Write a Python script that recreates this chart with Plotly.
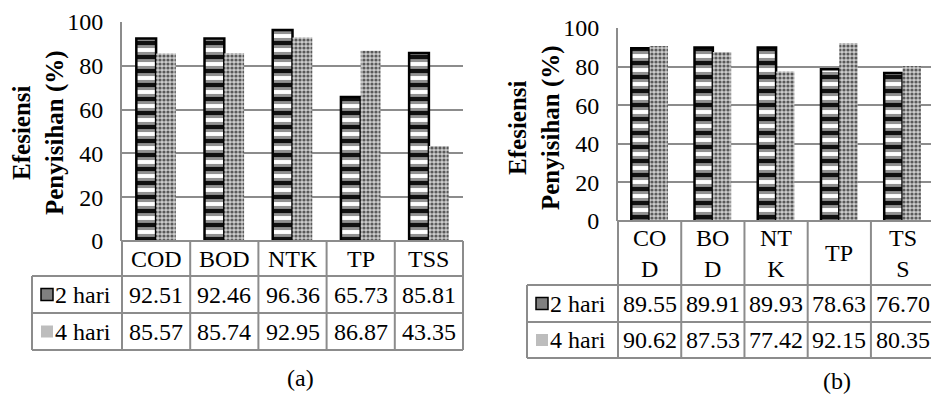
import plotly.graph_objects as go

W, H = 931, 394

# ---- data ----
categories = ["COD", "BOD", "NTK", "TP", "TSS"]
header_a = ["COD", "BOD", "NTK", "TP", "TSS"]
header_b = ["CO<br>D", "BO<br>D", "NT<br>K", "TP", "TS<br>S"]
series_names = ["2 hari", "4 hari"]
a_2hari = [92.51, 92.46, 96.36, 65.73, 85.81]
a_4hari = [85.57, 85.74, 92.95, 86.87, 43.35]
b_2hari = [89.55, 89.91, 89.93, 78.63, 76.70]
b_4hari = [90.62, 87.53, 77.42, 92.15, 80.35]
y_ticks = [0, 20, 40, 60, 80, 100]
y_title = "Efesiensi<br>Penyisihan (%)"
captions = ["(a)", "(b)"]

FONT = "'Times New Roman', 'Liberation Serif', 'DejaVu Serif', serif"
GRID = "#8c8c8c"
FS = 24

# ---- layout geometry (pixels) ----
panels = [
    dict(xa="x", ya="y", x0=122, x1=463, ytop=22, ybot=241, rng=[-0.5, 4.5],
         tleft=32, rows=[241, 276, 313, 350], tx=39, ty=133, cap=(300, 378),
         vals=[a_2hari, a_4hari], header=header_a),
    dict(xa="x2", ya="y2", x0=618, x1=931, ytop=28, ybot=221, rng=[-0.5, 4.45],
         tleft=527, rows=[221, 285, 322, 358], tx=535, ty=128, cap=(837, 381),
         vals=[b_2hari, b_4hari], header=header_b),
]


def px(x):
    return x / W


def py(y):
    return 1 - y / H


fig = go.Figure()
shapes = []
annotations = []
layout_axes = {}

BW = 0.29
for i, p in enumerate(panels):
    sfx = "" if i == 0 else "2"
    v2, v4 = p["vals"]
    # 2 hari: grey bands underneath
    fig.add_trace(go.Bar(
        x=categories, y=v2, name=series_names[0], xaxis=p["xa"], yaxis=p["ya"],
        width=BW, offset=-BW, showlegend=False,
        marker=dict(color="white", line=dict(width=0),
                    pattern=dict(shape="-", fgcolor="#929292", bgcolor="white",
                                 size=14, solidity=0.72)),
    ))
    # 2 hari: dark stripes and black outline on top
    fig.add_trace(go.Bar(
        x=categories, y=v2, name=series_names[0], xaxis=p["xa"], yaxis=p["ya"],
        width=BW, offset=-BW, showlegend=False,
        marker=dict(color="rgba(0,0,0,0)", line=dict(width=2.5, color="black"),
                    pattern=dict(shape="-", fgcolor="#111111", bgcolor="rgba(0,0,0,0)",
                                 size=14, solidity=0.3)),
    ))
    # 4 hari: fine grey texture
    fig.add_trace(go.Bar(
        x=categories, y=v4, name=series_names[1], xaxis=p["xa"], yaxis=p["ya"],
        width=BW, offset=0, showlegend=False,
        marker=dict(color="#b8b8b8", line=dict(width=0),
                    pattern=dict(shape=".", fgcolor="#5a5a5a", bgcolor="#cccccc",
                                 size=4, solidity=0.5)),
    ))

    layout_axes["xaxis" + sfx] = dict(
        domain=[px(p["x0"]), px(p["x1"])], range=p["rng"], type="category",
        showticklabels=False, showgrid=False, zeroline=False, showline=False,
        fixedrange=True, anchor=p["ya"], automargin=False,
    )
    layout_axes["yaxis" + sfx] = dict(
        domain=[py(p["ybot"]), py(p["ytop"])], range=[0, 100], tickvals=y_ticks,
        showgrid=True, gridcolor=GRID, gridwidth=2, zeroline=False,
        showline=True, linecolor=GRID, linewidth=2, ticks="",
        ticklabelstandoff=12, anchor=p["xa"], automargin=False, fixedrange=True,
        tickfont=dict(family=FONT, size=FS, color="black"),
    )

    # table geometry from axis scale
    r0, r1 = p["rng"]

    def cpx(v, p=p, r0=r0, r1=r1):
        return p["x0"] + (v - r0) / (r1 - r0) * (p["x1"] - p["x0"])

    right = cpx(len(categories) - 0.5)
    rows = p["rows"]
    line = dict(color=GRID, width=2)
    shapes.append(dict(type="line", xref="paper", yref="paper", x0=px(p["x0"]), x1=px(right),
                       y0=py(rows[0]), y1=py(rows[0]), line=line))
    for r in rows[1:]:
        shapes.append(dict(type="line", xref="paper", yref="paper", x0=px(p["tleft"]), x1=px(right),
                           y0=py(r), y1=py(r), line=line))
    shapes.append(dict(type="line", xref="paper", yref="paper", x0=px(p["tleft"]), x1=px(p["tleft"]),
                       y0=py(rows[1]), y1=py(rows[3]), line=line))
    for k in range(len(categories) + 1):
        xb = px(cpx(k - 0.5))
        shapes.append(dict(type="line", xref="paper", yref="paper", x0=xb, x1=xb,
                           y0=py(rows[0]), y1=py(rows[3]), line=line))

    # header labels
    for c, lab in zip(categories, p["header"]):
        annotations.append(dict(x=c, y=py((rows[0] + rows[1]) / 2), xref=p["xa"], yref="paper",
                                text=lab, showarrow=False, xanchor="center", yanchor="middle",
                                font=dict(family=FONT, size=FS, color="black")))
    # values
    for s, vals in enumerate(p["vals"]):
        yc = py((rows[s + 1] + rows[s + 2]) / 2)
        for c, v in zip(categories, vals):
            annotations.append(dict(x=c, y=yc, xref=p["xa"], yref="paper",
                                    text=f"{v:.2f}", showarrow=False, xanchor="center",
                                    yanchor="middle",
                                    font=dict(family=FONT, size=FS, color="black")))
        # row label with legend key
        annotations.append(dict(x=px(p["tleft"] + 21), y=yc, xref="paper", yref="paper",
                                text=series_names[s], showarrow=False, xanchor="left",
                                yanchor="middle",
                                font=dict(family=FONT, size=FS, color="black")))
        kx0 = p["tleft"] + 9
        kyc = (rows[s + 1] + rows[s + 2]) / 2
        if s == 0:
            shapes.append(dict(type="rect", xref="paper", yref="paper",
                               x0=px(kx0), x1=px(kx0 + 12), y0=py(kyc - 6), y1=py(kyc + 6),
                               fillcolor="#808080", line=dict(color="black", width=1.5)))
        else:
            shapes.append(dict(type="rect", xref="paper", yref="paper",
                               x0=px(kx0), x1=px(kx0 + 12), y0=py(kyc - 6), y1=py(kyc + 6),
                               fillcolor="#bdbdbd", line=dict(width=0)))

    # axis title
    annotations.append(dict(x=px(p["tx"]), y=py(p["ty"]), xref="paper", yref="paper",
                            text=y_title, textangle=-90, showarrow=False,
                            xanchor="center", yanchor="middle",
                            font=dict(family=FONT, size=25, color="black", weight="bold")))
    # caption
    annotations.append(dict(x=px(p["cap"][0]), y=py(p["cap"][1]), xref="paper", yref="paper",
                            text=captions[i], showarrow=False, xanchor="center", yanchor="middle",
                            font=dict(family=FONT, size=FS, color="black")))

fig.update_layout(
    template="none",
    width=W, height=H, margin=dict(l=0, r=0, t=0, b=0, pad=0, autoexpand=False),
    paper_bgcolor="white", plot_bgcolor="white",
    barmode="overlay", showlegend=False, hovermode=False,
    shapes=shapes, annotations=annotations,
    font=dict(family=FONT, size=FS, color="black"),
    **layout_axes,
)

fig.write_html("out.html", config={"displayModeBar": False, "staticPlot": True},
               post_script="document.body.style.margin='0px';")
